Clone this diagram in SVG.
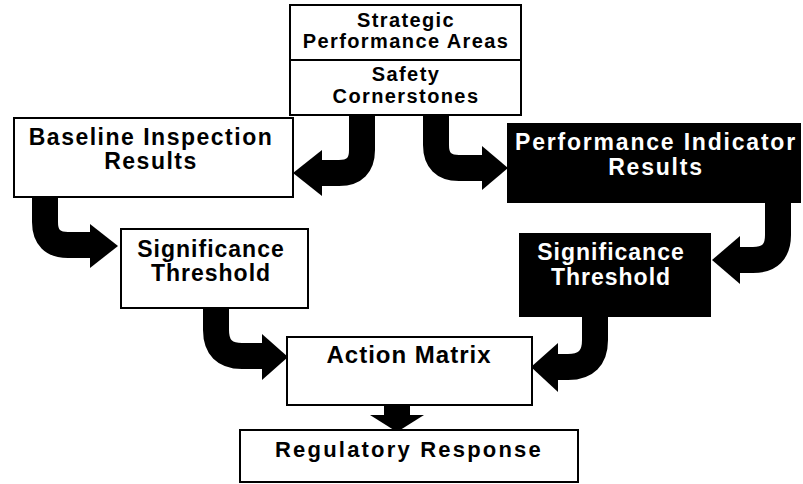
<svg xmlns="http://www.w3.org/2000/svg" width="803" height="484" viewBox="0 0 803 484">
<style>
.box{fill:#fff;stroke:#000;stroke-width:2}
.dark{fill:#000;stroke:#000;stroke-width:2}
text{font-family:"Liberation Sans",Arial,sans-serif;font-weight:bold;text-anchor:middle;fill:#000}
.w{fill:#fff}
.shaft{fill:none;stroke:#000;stroke-width:26;stroke-linecap:butt;stroke-linejoin:round}
.head{fill:#000}
</style>
<rect width="803" height="484" fill="#fff"/>
<g id="connectors">
  <path class="shaft" d="M362,115 L362,150 Q362,173 339,173 L320,173"/>
  <polygon class="head" points="322,150 293,173 322,196"/>
  <path class="shaft" d="M436,115 L436,145 Q436,168 459,168 L484,168"/>
  <polygon class="head" points="482,146 508,168 482,190"/>
  <path class="shaft" d="M45,197 L45,222 Q45,245 68,245 L92,245"/>
  <polygon class="head" points="90,224 118,246 90,268"/>
  <path class="shaft" d="M216,308 L216,330 Q216,356 242,356 L264,356"/>
  <polygon class="head" points="262,334 288,357 262,380"/>
  <path class="shaft" d="M778,202 L778,235 Q778,260 753,260 L738,260"/>
  <polygon class="head" points="740,236 712,260 740,284"/>
  <path class="shaft" d="M595,316 L595,340 Q595,367 568,367 L556,367"/>
  <polygon class="head" points="558,343 531,367 558,392"/>
  <path class="shaft" d="M397,405 L397,416"/>
  <polygon class="head" points="370,415 424,415 397,432"/>
</g>
<g id="strategic">
  <rect class="box" x="290" y="5" width="231" height="110"/>
  <line x1="290" y1="60" x2="521" y2="60" stroke="#000" stroke-width="2"/>
  <text x="406" y="27" font-size="20" letter-spacing="1.4">Strategic</text>
  <text x="406" y="48" font-size="20" letter-spacing="1.4">Performance Areas</text>
</g>
<g id="safety">
  <text x="406" y="81" font-size="20" letter-spacing="1.4">Safety</text>
  <text x="406" y="103" font-size="20" letter-spacing="1.4">Cornerstones</text>
</g>
<g id="baseline">
  <rect class="box" x="14" y="118" width="279" height="79"/>
  <text x="151" y="145" font-size="23" letter-spacing="1.5">Baseline Inspection</text>
  <text x="151" y="169" font-size="23" letter-spacing="1.5">Results</text>
</g>
<g id="pi">
  <rect class="dark" x="508" y="124" width="292" height="78"/>
  <text class="w" x="656" y="150" font-size="23" letter-spacing="1.8">Performance Indicator</text>
  <text class="w" x="656" y="175" font-size="23" letter-spacing="1.8">Results</text>
</g>
<g id="sig-left">
  <rect class="box" x="121" y="229" width="187" height="79"/>
  <text x="211" y="257" font-size="23" letter-spacing="1">Significance</text>
  <text x="211" y="281" font-size="23" letter-spacing="1">Threshold</text>
</g>
<g id="sig-right">
  <rect class="dark" x="520" y="234" width="190" height="82"/>
  <text class="w" x="611" y="260" font-size="23" letter-spacing="1">Significance</text>
  <text class="w" x="611" y="285" font-size="23" letter-spacing="1">Threshold</text>
</g>
<g id="action">
  <rect class="box" x="287" y="337" width="245" height="68"/>
  <text x="409" y="363" font-size="24" letter-spacing="1">Action Matrix</text>
</g>
<g id="response">
  <rect class="box" x="240" y="430" width="338" height="52"/>
  <text x="409" y="457" font-size="22" letter-spacing="2.2">Regulatory Response</text>
</g>
</svg>
